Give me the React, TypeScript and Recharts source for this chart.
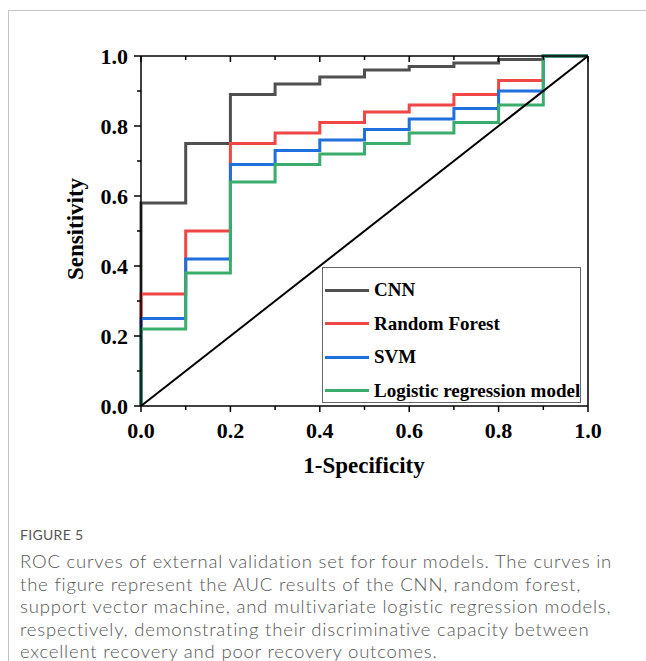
import React from "react";
import { LineChart, Line, XAxis, YAxis } from "recharts";

// 1-specificity steps (first point doubled so each curve rises from the origin)
const fpr = [0, 0, 0.1, 0.2, 0.3, 0.4, 0.5, 0.6, 0.7, 0.8, 0.9, 1.0];
const cnn = [0, 0.58, 0.75, 0.89, 0.92, 0.94, 0.96, 0.97, 0.98, 0.99, 1.0, 1.0];
const randomForest = [0, 0.32, 0.5, 0.75, 0.78, 0.81, 0.84, 0.86, 0.89, 0.93, 1.0, 1.0];
const svm = [0, 0.25, 0.42, 0.69, 0.73, 0.76, 0.79, 0.82, 0.85, 0.9, 1.0, 1.0];
const logistic = [0, 0.22, 0.38, 0.64, 0.69, 0.72, 0.75, 0.78, 0.81, 0.86, 1.0, 1.0];

const ticks = [0, 0.1, 0.2, 0.3, 0.4, 0.5, 0.6, 0.7, 0.8, 0.9, 1.0];

const series = [
  { key: "cnn", name: "CNN", color: "#505050" },
  { key: "rf", name: "Random Forest", color: "#f04646" },
  { key: "svm", name: "SVM", color: "#1f6fdc" },
  { key: "lr", name: "Logistic regression model", color: "#3aad6c" },
];

const captionLines = [
  "ROC curves of external validation set for four models. The curves in",
  "the figure represent the AUC results of the CNN, random forest,",
  "support vector machine, and multivariate logistic regression models,",
  "respectively, demonstrating their discriminative capacity between",
  "excellent recovery and poor recovery outcomes.",
];

const rows = fpr.map((x, i) => ({
  x,
  cnn: cnn[i],
  rf: randomForest[i],
  svm: svm[i],
  lr: logistic[i],
  diag: i === 0 ? 0 : i === fpr.length - 1 ? 1 : undefined,
}));

const SERIF = '"Liberation Serif", "Times New Roman", serif';
const SANS = "Lato, 'Open Sans', sans-serif";
const isMajor = (v: number) => Math.round(v * 10) % 2 === 0;

function BottomTick({ x, y, payload }: any) {
  const major = isMajor(payload.value);
  return (
    <g>
      <line x1={x} x2={x} y1={y} y2={y + (major ? 6 : 4)} stroke="#000" strokeWidth={1.5} />
      {major && (
        <text x={x} y={y + 32} textAnchor="middle" fontFamily={SERIF} fontWeight="bold" fontSize={22} fill="#000">
          {payload.value.toFixed(1)}
        </text>
      )}
    </g>
  );
}

function TopTick({ x, y, payload }: any) {
  const major = isMajor(payload.value);
  return <line x1={x} x2={x} y1={y} y2={y + (major ? 6 : 4)} stroke="#000" strokeWidth={1.5} />;
}

function LeftTick({ x, y, payload }: any) {
  const major = isMajor(payload.value);
  return (
    <g>
      <line x1={x} x2={x - (major ? 7 : 4)} y1={y} y2={y} stroke="#000" strokeWidth={1.5} />
      {major && (
        <text x={x - 13} y={y + 8} textAnchor="end" fontFamily={SERIF} fontWeight="bold" fontSize={22} fill="#000">
          {payload.value.toFixed(1)}
        </text>
      )}
    </g>
  );
}

function RightTick({ x, y, payload }: any) {
  const major = isMajor(payload.value);
  return <line x1={x} x2={x - (major ? 6 : 4)} y1={y} y2={y} stroke="#000" strokeWidth={1.5} />;
}

const axisLine = { stroke: "#000", strokeWidth: 1.5 };

export default function App() {
  return (
    <div style={{ position: "absolute", left: 0, top: 0, width: 646, height: 661, background: "#fff", overflow: "hidden" }}>
      <div
        style={{
          position: "absolute",
          left: 8,
          top: 10,
          width: 660,
          height: 680,
          borderLeft: "1px solid #c4c4c4",
          borderTop: "1px solid #c4c4c4",
        }}
      />
      <div style={{ position: "absolute", left: 0, top: 0 }}>
        <LineChart width={646} height={480} data={rows} margin={{ top: 46, right: 48, bottom: 34, left: 81 }}>
          <XAxis
            dataKey="x"
            type="number"
            domain={[0, 1]}
            ticks={ticks}
            height={40}
            tickSize={0}
            tickMargin={0}
            tickLine={false}
            tick={<BottomTick />}
            interval={0}
            axisLine={axisLine}
          />
          <XAxis
            xAxisId="top"
            orientation="top"
            dataKey="x"
            type="number"
            domain={[0, 1]}
            ticks={ticks}
            height={10}
            tickSize={0}
            tickMargin={0}
            tickLine={false}
            tick={<TopTick />}
            interval={0}
            axisLine={axisLine}
          />
          <YAxis
            type="number"
            domain={[0, 1]}
            ticks={ticks}
            width={60}
            tickSize={0}
            tickMargin={0}
            tickLine={false}
            tick={<LeftTick />}
            interval={0}
            axisLine={axisLine}
          />
          <YAxis
            yAxisId="right"
            orientation="right"
            type="number"
            domain={[0, 1]}
            ticks={ticks}
            width={10}
            tickSize={0}
            tickMargin={0}
            tickLine={false}
            tick={<RightTick />}
            interval={0}
            axisLine={axisLine}
          />
          {series.map((s) => (
            <Line
              key={s.key}
              type="stepAfter"
              dataKey={s.key}
              stroke={s.color}
              strokeWidth={3}
              dot={false}
              activeDot={false}
              isAnimationActive={false}
            />
          ))}
          <Line
            type="linear"
            dataKey="diag"
            stroke="#000"
            strokeWidth={2}
            connectNulls
            dot={false}
            activeDot={false}
            isAnimationActive={false}
          />
        </LineChart>
      </div>

      {/* axis titles */}
      <div
        style={{
          position: "absolute",
          left: 75,
          top: 229,
          transform: "translate(-50%, -50%) rotate(-90deg)",
          fontFamily: SERIF,
          fontWeight: "bold",
          fontSize: 23,
          whiteSpace: "nowrap",
          lineHeight: 1,
        }}
      >
        Sensitivity
      </div>
      <div
        style={{
          position: "absolute",
          left: 364,
          top: 465,
          transform: "translate(-50%, -50%)",
          fontFamily: SERIF,
          fontWeight: "bold",
          fontSize: 23,
          whiteSpace: "nowrap",
          lineHeight: 1,
        }}
      >
        1-Specificity
      </div>

      {/* legend */}
      <div
        style={{
          position: "absolute",
          left: 322,
          top: 267,
          width: 259,
          height: 136,
          border: "1.5px solid #666",
          background: "#fff",
          boxSizing: "border-box",
        }}
      >
        {series.map((s, i) => (
          <div
            key={s.key}
            style={{
              position: "absolute",
              left: 2,
              top: 22 + i * 33.5 - 12,
              height: 24,
              display: "flex",
              alignItems: "center",
              whiteSpace: "nowrap",
            }}
          >
            <div style={{ width: 44, height: 3, background: s.color, marginRight: 5 }} />
            <span style={{ fontFamily: SERIF, fontWeight: "bold", fontSize: 19, color: "#000" }}>{s.name}</span>
          </div>
        ))}
      </div>

      {/* caption */}
      <div
        style={{
          position: "absolute",
          left: 20,
          top: 526,
          fontFamily: SANS,
          fontSize: 14,
          color: "#555",
          letterSpacing: 0.3,
        }}
      >
        FIGURE 5
      </div>
      <div
        style={{
          position: "absolute",
          left: 20,
          top: 550,
          fontFamily: SANS,
          fontWeight: 300,
          fontSize: 18.5,
          lineHeight: "22.5px",
          letterSpacing: 0.8,
          color: "#555",
        }}
      >
        {captionLines.map((l, i) => (
          <div key={i} style={{ whiteSpace: "nowrap" }}>
            {l}
          </div>
        ))}
      </div>
    </div>
  );
}
